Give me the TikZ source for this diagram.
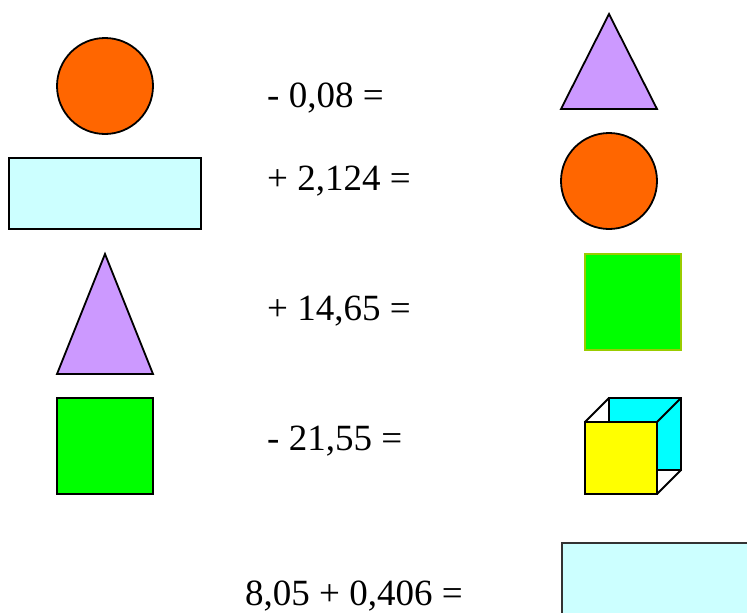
\documentclass[tikz,border=0pt]{standalone}
\usepackage{fontspec}
\setmainfont{Liberation Serif}
\definecolor{orangeF}{HTML}{FF6600}
\definecolor{lavender}{HTML}{CC99FF}
\definecolor{lightcyan}{HTML}{CCFFFF}
\definecolor{brightgreen}{HTML}{00FF00}
\definecolor{cyanF}{HTML}{00FFFF}
\definecolor{yellowF}{HTML}{FFFF00}
\definecolor{olivegreen}{HTML}{99CC00}
\begin{document}
\begin{tikzpicture}[x=1pt,y=-1pt,
  shp/.style={draw=black,line width=1.8pt,line join=miter},
  eq/.style={anchor=base west,inner sep=0pt,font=\fontsize{37}{40}\selectfont}]
\useasboundingbox (0,0) rectangle (747,613);
\clip (0,0) rectangle (747,613);
% left column
\draw[shp,fill=orangeF] (105,86) circle (48);
\draw[shp,fill=lightcyan] (9,158) rectangle (201,229);
\draw[shp,fill=lavender] (105,254) -- (153,374) -- (57,374) -- cycle;
\draw[shp,fill=brightgreen] (57,398) rectangle (153,494);
% equations
\node[eq] (e1) at (267,107) {- 0,08 =};
\node[eq] (e2) at (267,190) {+ 2,124 =};
\node[eq] (e3) at (267,320) {+ 14,65 =};
\node[eq] (e4) at (267,450) {- 21,55 =};
\node[eq] (e5) at (245,605) {8,05 + 0,406 =};
% right column
\draw[shp,fill=lavender] (609,14) -- (657,109) -- (561,109) -- cycle;
\draw[shp,fill=orangeF] (609,181) circle (48);
\draw[draw=olivegreen,line width=1.5pt,fill=brightgreen] (585,254) rectangle (681,350);
% cube
\draw[shp,fill=cyanF] (609,398) rectangle (681,470);
\draw[shp] (585,422) -- (609,398);
\draw[shp] (657,422) -- (681,398);
\draw[shp] (657,494) -- (681,470);
\draw[shp,fill=yellowF] (585,422) rectangle (657,494);
% bottom right rectangle
\draw[draw=black!80,line width=1.8pt,fill=lightcyan] (562,543) rectangle (770,640);
\end{tikzpicture}
\end{document}
